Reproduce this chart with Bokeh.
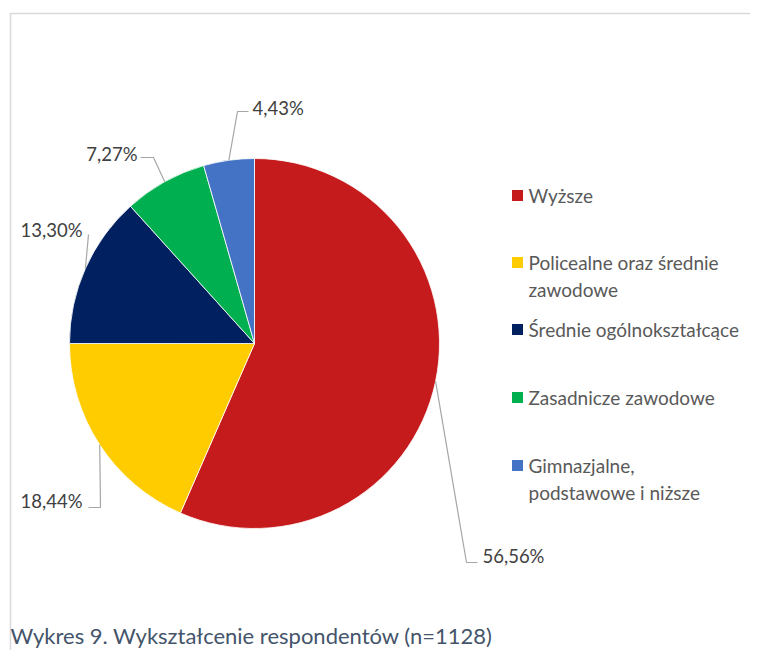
import math
from bokeh.plotting import figure
from bokeh.models import Range1d
from bokeh.core.properties import value
from bokeh.embed import file_html
from bokeh.resources import INLINE

# ---- data ----
categories = ["Wyższe", "Policealne oraz średnie\nzawodowe", "Średnie ogólnokształcące",
              "Zasadnicze zawodowe", "Gimnazjalne,\npodstawowe i niższe"]
shares = [56.56, 18.44, 13.30, 7.27, 4.43]
colors = ["#C61B1D", "#FFCC00", "#002060", "#00B050", "#4472C4"]
caption = "Wykres 9. Wykształcenie respondentów (n=1128)"

W, H = 750, 650
FONT = "Lato"

def X(ix):
    return ix

def Y(iy):
    return H - iy

p = figure(width=W, height=H, x_range=Range1d(0, W), y_range=Range1d(0, H),
           x_axis_type=None, y_axis_type=None, toolbar_location=None,
           output_backend="svg", min_border=0)
p.grid.visible = False
p.outline_line_color = None
p.background_fill_color = "white"

# frame lines (left and top)
p.line(x=[X(10), X(10), X(766)], y=[Y(666), Y(13), Y(13)], line_color="#D9D9D9", line_width=1.5)

# pie
cx, cy, R = X(254), Y(343), 185
total = sum(shares)
cum = 0.0
starts, ends, mids = [], [], []
for v in shares:
    a0 = math.pi / 2 - 2 * math.pi * cum / total
    cum += v
    a1 = math.pi / 2 - 2 * math.pi * cum / total
    starts.append(a0)
    ends.append(a1)
    mids.append((a0 + a1) / 2)

p.wedge(x=cx, y=cy, radius=R, start_angle=starts, end_angle=ends, direction="clock",
        fill_color=colors, line_color="white", line_width=0.8)

# data labels with leader lines (elbow points and text anchors are layout)
elbows = [
    [(466, 562), (477, 562)],
    [(100, 507), (88, 507)],
    [(88, 234)],
    [(153, 157), (140, 157)],
    [(237, 111), (248, 111)],
]
label_pos = [(482, 555, "left"), (82, 500, "right"), (82, 229, "right"),
             (137, 153, "right"), (252, 107, "left")]

xs, ys = [], []
for m, el in zip(mids, elbows):
    ex = cx + R * math.cos(m)
    ey = cy + R * math.sin(m)
    xs.append([ex] + [X(a) for a, b in el])
    ys.append([ey] + [Y(b) for a, b in el])
p.multi_line(xs=xs, ys=ys, line_color="#A6A6A6", line_width=1.2)

for v, (lx, ly, al) in zip(shares, label_pos):
    txt = f"{v:.2f}%".replace(".", ",")
    p.text(x=[X(lx)], y=[Y(ly)], text=[txt], text_align=al, text_baseline="middle",
           text_font=value(FONT), text_font_size="18.5px", text_color="#404040")

# legend (custom)
leg_y = [195, 262, 329, 397, 465]
for cat, col, ly in zip(categories, colors, leg_y):
    p.rect(x=[X(517)], y=[Y(ly)], width=11, height=11, fill_color=col, line_color=None)
    for i, line in enumerate(cat.split("\n")):
        p.text(x=[X(528)], y=[Y(ly + 26.5 * i)], text=[line], text_align="left",
               text_baseline="middle", text_font=value(FONT), text_font_size="19px",
               text_color="#595959")

# caption
p.text(x=[X(10)], y=[Y(635)], text=[caption], text_align="left", text_baseline="middle",
       text_font=value(FONT), text_font_size="22px", text_color="#44546A")

open("out.html", "w").write(file_html(p, INLINE))
